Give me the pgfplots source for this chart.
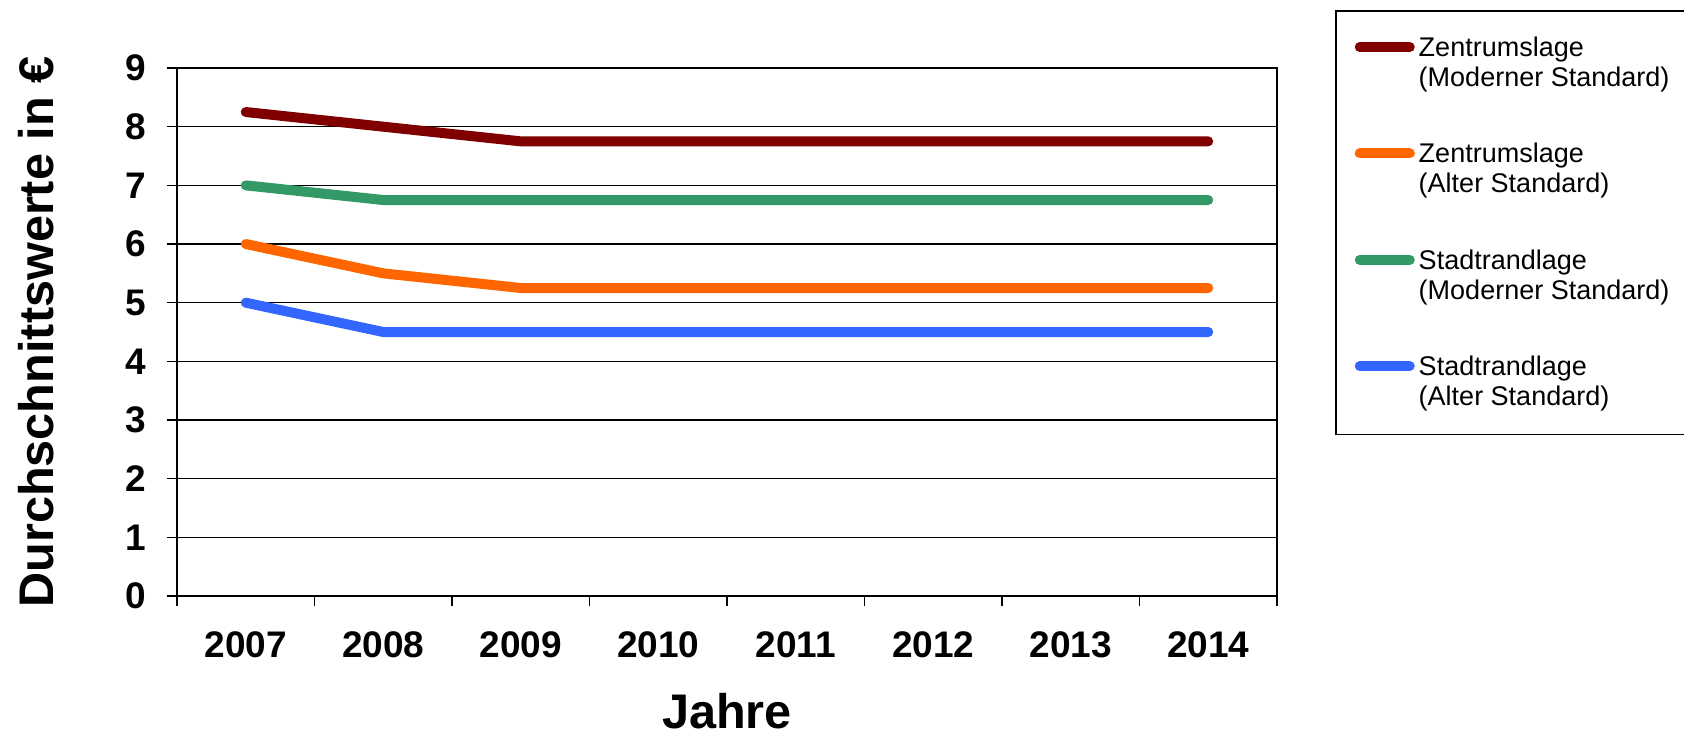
\documentclass[border=0pt]{standalone}
\usepackage{fontspec}
\setmainfont{Liberation Sans}
\usepackage{pgfplots}
\pgfplotsset{compat=1.18}
\definecolor{cRed}{HTML}{800000}
\definecolor{cOrange}{HTML}{FF6600}
\definecolor{cGreen}{HTML}{339966}
\definecolor{cBlue}{HTML}{3366FF}
\begin{document}
\begin{tikzpicture}
\useasboundingbox (-88.5bp,-70.5bp) rectangle (753.5bp,298bp);
\begin{axis}[
  at={(0,0)}, anchor=south west,
  width=550bp, height=264bp, scale only axis,
  xmin=-0.5, xmax=7.5, ymin=0, ymax=9,
  xtick={0,...,7}, xticklabels={2007,2008,2009,2010,2011,2012,2013,2014},
  minor xtick={-0.5,0.5,...,7.5},
  ytick={0,...,9},
  tick align=outside, tick pos=left,
  major tick length=5bp, minor tick length=5bp,
  major x tick style={draw=none},
  tick style={black, line width=0.8bp},
  axis line style={black, line width=1bp},
  ymajorgrids, major grid style={black, line width=0.8bp},
  /pgf/number format/assume math mode=true,
  ticklabel style={font=\fontsize{18.5bp}{22bp}\selectfont\bfseries},
  xticklabel style={yshift=-9.5bp},
  yticklabel style={xshift=-7bp},
  xlabel={Jahre}, ylabel={Durchschnittswerte in €},
  label style={font=\fontsize{24.3bp}{29bp}\selectfont\bfseries},
  xlabel style={yshift=-10.5bp},
  ylabel style={yshift=29bp},
  legend style={at={(1.0527,1.1098)}, anchor=north west, draw=black, line width=0.8bp,
    font=\fontsize{13.5bp}{15bp}\selectfont, row sep=22.9bp, inner xsep=6bp, inner ysep=11bp,
    cells={align=left}},
  legend cell align=left,
  legend image code/.code={\path (0bp,-8bp) (0bp,8bp); \draw[#1, line width=5bp, line cap=round] (3.5bp,8bp) -- (28.5bp,8bp);},
  every axis plot/.append style={line width=5bp, line cap=round, line join=round},
]
\addplot[cRed] coordinates {(0,8.25) (1,8.0) (2,7.75) (3,7.75) (4,7.75) (5,7.75) (6,7.75) (7,7.75)};
\addlegendentry{Zentrumslage\\(Moderner Standard)}
\addplot[cOrange] coordinates {(0,6.0) (1,5.5) (2,5.25) (3,5.25) (4,5.25) (5,5.25) (6,5.25) (7,5.25)};
\addlegendentry{Zentrumslage\\(Alter Standard)}
\addplot[cGreen] coordinates {(0,7.0) (1,6.75) (2,6.75) (3,6.75) (4,6.75) (5,6.75) (6,6.75) (7,6.75)};
\addlegendentry{Stadtrandlage\\(Moderner Standard)}
\addplot[cBlue] coordinates {(0,5.0) (1,4.5) (2,4.5) (3,4.5) (4,4.5) (5,4.5) (6,4.5) (7,4.5)};
\addlegendentry{Stadtrandlage\\(Alter Standard)}
\end{axis}
\end{tikzpicture}
\end{document}
